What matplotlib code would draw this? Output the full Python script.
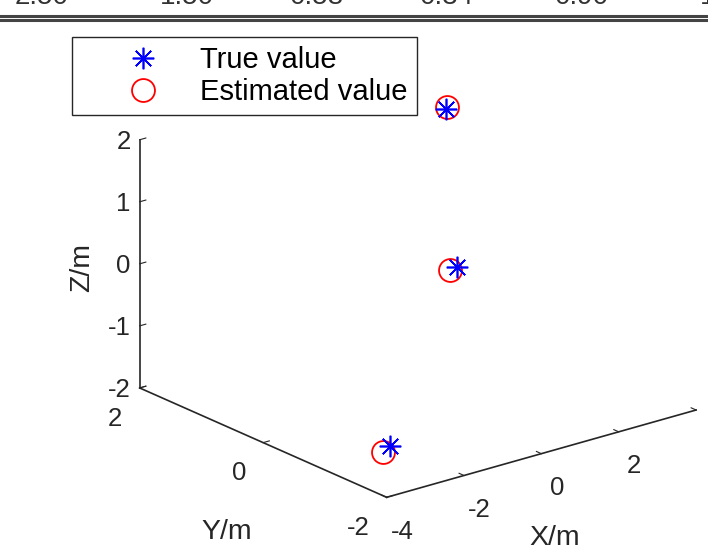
"""3D scatter of true vs estimated positions (MATLAB-style view)."""
import numpy as np
import matplotlib
matplotlib.use("Agg")
import matplotlib.pyplot as plt
from mpl_toolkits.mplot3d import proj3d

plt.rcParams["font.family"] = ["Liberation Sans", "DejaVu Sans"]
plt.rcParams["axes.unicode_minus"] = False

# data
true_x = [1.93, 0.88, -2.12]
true_y = [0.75, -0.08, -0.88]
true_z = [2.0, 0.0, -2.0]
est_x = [2.02, 0.70, -2.44]
est_y = [0.79, -0.09, -0.97]
est_z = [2.0, 0.0, -2.0]

x_ticks = [-4, -2, 0, 2, 4]
x_ticklabels = ["-4", "-2", "0", "2", ""]  # the "4" falls outside the crop
y_ticks = [-2, 0, 2]
z_ticks = [-2, -1, 0, 1, 2]
table_row = ["2.50", "1.50", "0.58", "0.34", "0.90", "1"]

W, H = 708, 545
fig = plt.figure(figsize=(W / 100, H / 100), dpi=100)
ax = fig.add_axes([0.1, 0.1, 0.8, 0.8], projection="3d", proj_type="ortho",
                  computed_zorder=False)
ax.set_xlim(-4, 4); ax.set_ylim(-2, 2); ax.set_zlim(-2, 2)
ax.set_box_aspect((1, 1, 0.67))
ax.view_init(elev=20.7, azim=-128.6)

est, = ax.plot(est_x, est_y, est_z, ls="none", marker="o", ms=16.5, mfc="none",
               mec="red", mew=1.3, zorder=3)
tru, = ax.plot(true_x, true_y, true_z, ls="none", marker=(8, 2, 0), ms=15.5,
               mec="blue", mew=1.2, zorder=4)

ax.set_xticks(x_ticks, x_ticklabels); ax.set_yticks(y_ticks); ax.set_zticks(z_ticks)
ax.tick_params(labelsize=18.5, colors="#262626")
ax.xaxis.set_tick_params(pad=6)
ax.yaxis.set_tick_params(pad=4.5)
ax.zaxis.set_tick_params(pad=-4.4)
for t in ax.yaxis.get_major_ticks() + ax.zaxis.get_major_ticks():
    t.label1.set_horizontalalignment("right")
for t in ax.zaxis.get_major_ticks():
    t.label1.set_verticalalignment("center_baseline")
ax.grid(False)
for axis in (ax.xaxis, ax.yaxis, ax.zaxis):
    axis.pane.fill = False
    axis.pane.set_edgecolor("none")
    axis.line.set_color("#262626")
    axis.line.set_linewidth(1.2)
    axis._axinfo["tick"]["inward_factor"] = 0.0
    axis._axinfo["tick"]["outward_factor"] = 0.25
    axis._axinfo["tick"]["color"] = "#262626"

ax.legend([tru, est], ["True value", "Estimated value"], loc="upper left",
          bbox_to_anchor=(72 / W, 1 - 37 / H), bbox_transform=fig.transFigure,
          borderaxespad=0, fontsize=21, fancybox=False, edgecolor="#262626",
          framealpha=1, handlelength=4.3, handletextpad=-0.2, labelspacing=0.15,
          borderpad=0.3)

# fit the projected box onto where the reference box sits (pixel coords, y down)
fig.canvas.draw()
corners = [(-4, -2, -2), (4, -2, -2), (-4, 2, -2), (-4, 2, 2)]
targets = np.array([(385, 497), (697, 410), (140, 388), (140, 140)], float)


def screen(p):
    x2, y2, _ = proj3d.proj_transform(*p, ax.get_proj())
    dx, dy = ax.transData.transform((x2, y2))
    return np.array([dx, H - dy])


bb = ax.get_position()
side = bb.width * W
cen = np.array([(bb.x0 + bb.width / 2) * W, H - (bb.y0 + bb.height / 2) * H])
r = np.array([screen(c) for c in corners]) - cen
rm, tm = r.mean(0), targets.mean(0)
s = ((targets - tm) * (r - rm)).sum() / ((r - rm) ** 2).sum()
c_new = tm - s * rm
side *= s
ax.set_position([(c_new[0] - side / 2) / W, (H - c_new[1] - side / 2) / H,
                 side / W, side / H])

# axis titles, placed as MATLAB puts them
fig.text(555 / W, 1 - 538 / H, "X/m", fontsize=20.5, ha="center", va="center", color="#262626")
fig.text(227 / W, 1 - 532 / H, "Y/m", fontsize=20.5, ha="center", va="center", color="#262626")
fig.text(82 / W, 1 - 267 / H, "Z/m", fontsize=20.5, ha="center", va="center",
         rotation=90, color="#262626")

# cut-off table row above the figure
fig.add_artist(plt.Line2D([0, 1], [1 - 15.5 / H] * 2, color="#444444", lw=2.2))
fig.add_artist(plt.Line2D([0, 1], [1 - 19.5 / H] * 2, color="#444444", lw=2.2))
for xp, t in zip([15, 160, 290, 420, 555, 700], table_row):
    fig.text(xp / W, 1 - 4 / H, t, fontsize=20, va="baseline", color="#333333")

fig.savefig("out.png", dpi=100)
